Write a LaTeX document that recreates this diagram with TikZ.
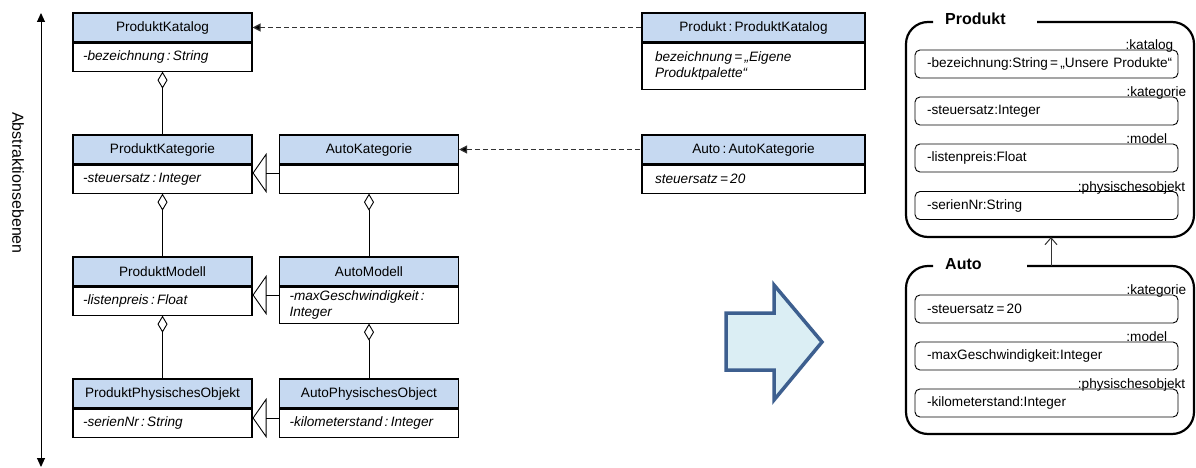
\documentclass[tikz,border=0pt]{standalone}
\usepackage{fontspec}
\setmainfont{Liberation Sans}
\usetikzlibrary{arrows.meta}
\definecolor{hdrblue}{HTML}{C6D9F1}
\definecolor{blockfill}{HTML}{DBEEF4}
\definecolor{blockline}{HTML}{3D5F8F}
\definecolor{dashgray}{HTML}{333333}
\newcommand{\txtsize}{\fontsize{13.6}{15.5}\selectfont}
\newcommand{\ttlsize}{\fontsize{16}{18}\selectfont}
\begin{document}
\begin{tikzpicture}[x=1pt,y=-1pt,
  hdr/.style={draw, fill=hdrblue, line width=1.1pt, minimum width=179pt, minimum height=29pt, inner sep=0pt, font=\txtsize},
  bdy/.style={draw, line width=1.1pt, anchor=north, text width=159pt, inner xsep=10pt, inner ysep=0pt, align=left, minimum height=28pt, font=\txtsize\itshape},
  ohdr/.style={hdr, minimum width=223pt},
  obdy/.style={bdy, text width=197pt, inner xsep=13pt},
  aggr/.style={draw, line width=0.9pt, {Diamond[open, length=17pt, width=10pt]}-},
  inherit/.style={draw, line width=0.9pt, {Triangle[open, length=14pt, width=40pt]}-},
  instof/.style={draw=dashgray, line width=1.2pt, dash pattern=on 5pt off 3pt, {Triangle[length=8pt, width=8pt, fill=black]}-},
  frame/.style={draw, line width=2.2pt, rounded corners=22pt},
  framettl/.style={anchor=base west, font=\ttlsize\bfseries, inner sep=0pt},
  slot/.style={draw, line width=0.9pt, rounded corners=5pt, minimum width=263pt, minimum height=28pt, text width=255pt, inner xsep=4pt, align=left, font=\txtsize},
  slotlbl/.style={anchor=base east, inner sep=0pt, font=\txtsize}
]
\useasboundingbox (0,0) rectangle (1196,468);

% abstraction axis
\coordinate (axtop) at (41,13);
\coordinate (axbot) at (41,467);
\draw[line width=1pt, {Triangle[length=9pt, width=8pt]}-{Triangle[length=9pt, width=8pt]}] (axtop) -- (axbot);
\node[rotate=-90, font=\fontsize{16}{18}\selectfont] (axlabel) at (18,183) {Abstraktionsebenen};

% generic product classes
\node[hdr] (pkat) at (162.5,27.5) {ProduktKatalog};
\node[bdy] (pkatb) at (pkat.south) {-bezeichnung\,:\,String};
\node[hdr] (pkg) at (162.5,149.5) {ProduktKategorie};
\node[bdy] (pkgb) at (pkg.south) {-steuersatz\,:\,Integer};
\node[hdr] (pmod) at (162.5,271.5) {ProduktModell};
\node[bdy] (pmodb) at (pmod.south) {-listenpreis\,:\,Float};
\node[hdr] (pphy) at (162.5,393.5) {ProduktPhysischesObjekt};
\node[bdy] (pphyb) at (pphy.south) {-serienNr\,:\,String};

% car classes
\node[hdr] (akg) at (369,149.5) {AutoKategorie};
\node[bdy] (akgb) at (akg.south) {};
\node[hdr] (amod) at (369,271.5) {AutoModell};
\node[bdy, minimum height=36pt] (amodb) at (amod.south) {-maxGeschwindigkeit\,:\\Integer};
\node[hdr] (aphy) at (369,393.5) {AutoPhysischesObject};
\node[bdy] (aphyb) at (aphy.south) {-kilometerstand\,:\,Integer};

% objects
\node[ohdr] (oprod) at (753.5,27.5) {Produkt\,:\,ProduktKatalog};
\node[obdy, minimum height=46pt] (oprodb) at (oprod.south) {bezeichnung\,=\,„Eigene\\Produktpalette“};
\node[ohdr] (oauto) at (753.5,149.5) {Auto\,:\,AutoKategorie};
\node[obdy] (oautob) at (oauto.south) {steuersatz\,=\,20};

% aggregations
\draw[aggr] (pkatb.south) -- (pkg.north);
\draw[aggr] (pkgb.south) -- (pmod.north);
\draw[aggr] (pmodb.south) -- (pphy.north);
\draw[aggr] (akgb.south) -- (amod.north);
\draw[aggr] (amodb.south) -- (aphy.north);

% generalizations
\draw[inherit] (pkgb.east |- 0,173) -- (akgb.west |- 0,173);
\draw[inherit] (pmodb.east |- 0,295) -- (amodb.west |- 0,295);
\draw[inherit] (pphyb.east |- 0,418) -- (aphyb.west |- 0,418);

% instance-of links
\draw[instof] (pkat.east) -- (oprod.west);
\draw[instof] (akg.east) -- (oauto.west);

% transformation arrow
\draw[line width=3.5pt, draw=blockline, fill=blockfill, line join=miter]
  (726,313) -- (774,313) -- (774,285) -- (822,342) -- (774,400) -- (774,370) -- (726,370) -- cycle;

% Produkt frame
\draw[frame] (933,22) -- (906,22) -- (906,237) -- (1194,237) -- (1194,22) -- (1037,22);
\node[framettl] (tprod) at (945,25) {Produkt};
\node[slot] (s1) at (1046.5,64) {\hspace*{8pt}\mbox{-bezeichnung:String\,=\,„Unsere Produkte“}};
\node[slot] (s2) at (1046.5,111) {\hspace*{8pt}-steuersatz:Integer};
\node[slot] (s3) at (1046.5,158) {\hspace*{8pt}-listenpreis:Float};
\node[slot] (s4) at (1046.5,205.5) {\hspace*{8pt}-serienNr:String};
\node[slotlbl] (l1) at ([xshift=-5pt]s1.north east) {:katalog};
\node[slotlbl] (l2) at ([xshift=8pt]s2.north east) {:kategorie};
\node[slotlbl] (l3) at ([xshift=-11pt]s3.north east) {:model};
\node[slotlbl] (l4) at ([xshift=7pt]s4.north east) {:physischesobjekt};

% Auto frame
\draw[frame] (933,266) -- (906,266) -- (906,434) -- (1194,434) -- (1194,266) -- (1027,266);
\node[framettl] (tauto) at (945,269) {Auto};
\node[slot] (t1) at (1046.5,309) {\hspace*{8pt}-steuersatz\,=\,20};
\node[slot] (t2) at (1046.5,356) {\hspace*{8pt}-maxGeschwindigkeit:Integer};
\node[slot] (t3) at (1046.5,403) {\hspace*{8pt}-kilometerstand:Integer};
\node[slotlbl] (m1) at ([xshift=8pt]t1.north east) {:kategorie};
\node[slotlbl] (m2) at ([xshift=-11pt]t2.north east) {:model};
\node[slotlbl] (m3) at ([xshift=7pt]t3.north east) {:physischesobjekt};

% Auto extends Produkt
\coordinate (autotop) at (1051,266);
\coordinate (prodbot) at (1051,237);
\draw[line width=1pt, draw=dashgray, -{Straight Barb[length=7pt, width=12pt]}] (autotop) -- (prodbot);
\end{tikzpicture}
\end{document}
